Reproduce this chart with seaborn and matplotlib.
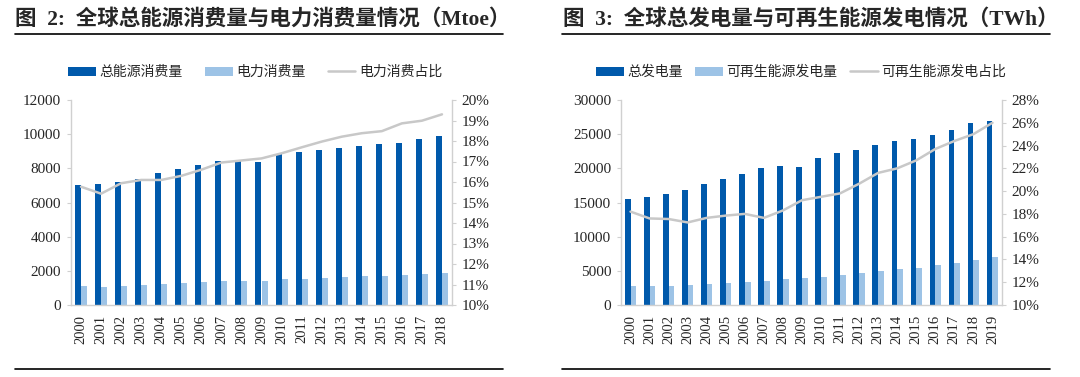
import numpy as np
import pandas as pd
import matplotlib.pyplot as plt
import seaborn as sns
from matplotlib.patches import Patch
from matplotlib.lines import Line2D
from matplotlib.ticker import FuncFormatter, MultipleLocator

sns.set_style("white")
plt.rcParams['font.family'] = ['Liberation Serif', 'Noto Sans CJK SC']

DARK = "#0059AB"
LIGHT = "#9DC3E6"
LINE_C = "#C8C8C8"
SPINE_C = "#D0D0D0"

# left panel: world energy vs electricity consumption (Mtoe)
years_a = ["2000", "2001", "2002", "2003", "2004", "2005", "2006", "2007", "2008", "2009",
           "2010", "2011", "2012", "2013", "2014", "2015", "2016", "2017", "2018"]
total_energy = [7020, 7060, 7190, 7390, 7740, 7950, 8170, 8420, 8440, 8380,
                8810, 8950, 9045, 9200, 9290, 9400, 9510, 9690, 9920]
power_use = [1090, 1075, 1110, 1150, 1210, 1270, 1330, 1385, 1420, 1400,
             1500, 1540, 1600, 1655, 1680, 1700, 1775, 1815, 1890]
power_share = [15.77, 15.43, 15.94, 16.1, 16.1, 16.3, 16.6, 16.95, 17.05, 17.15,
               17.4, 17.69, 17.97, 18.21, 18.38, 18.48, 18.86, 18.99, 19.3]
names_a = ["总能源消费量", "电力消费量", "电力消费占比"]

# right panel: total vs renewable generation (TWh)
years_b = ["2000", "2001", "2002", "2003", "2004", "2005", "2006", "2007", "2008", "2009",
           "2010", "2011", "2012", "2013", "2014", "2015", "2016", "2017", "2018", "2019"]
total_gen = [15510, 15760, 16300, 16880, 17680, 18420, 19150, 20000, 20390, 20220,
             21530, 22240, 22750, 23410, 24000, 24250, 24900, 25620, 26610, 27000]
renew_gen = [2780, 2730, 2830, 2930, 3070, 3270, 3410, 3510, 3760, 3900,
             4150, 4340, 4680, 5020, 5270, 5460, 5850, 6190, 6630, 6970]
renew_share = [18.2, 17.6, 17.55, 17.25, 17.65, 17.85, 18.0, 17.65, 18.3, 19.2,
               19.5, 19.8, 20.65, 21.6, 22.0, 22.7, 23.7, 24.4, 25.0, 26.0]
names_b = ["总发电量", "可再生能源发电量", "可再生能源发电占比"]

W, H = 1080, 377
fig = plt.figure(figsize=(W / 100, H / 100), dpi=100)


def box(x0, x1, ytop, ybot):
    return [x0 / W, 1 - ybot / H, (x1 - x0) / W, (ybot - ytop) / H]


def panel(ax, years, big, small, share, names, ymax, ystep, pmin, pmax, pstep,
          leg_x, colsp):
    n = len(years)
    df = pd.DataFrame({"year": years * 2,
                       "value": big + small,
                       "series": [names[0]] * n + [names[1]] * n})
    sns.barplot(data=df, x="year", y="value", hue="series", palette=[DARK, LIGHT],
                width=0.6, saturation=1, linewidth=0, legend=False, ax=ax)
    ax.set_xlim(-0.5, n - 0.5)
    ax.set_ylim(0, ymax)
    ax.yaxis.set_major_locator(MultipleLocator(ystep))
    ax.set_xlabel("")
    ax.set_ylabel("")
    ax.tick_params(axis="x", rotation=90, length=0, labelsize=10.5, pad=7)
    ax.tick_params(axis="y", length=3, color=SPINE_C, labelsize=11, pad=4, left=True)
    for s in ["top", "right"]:
        ax.spines[s].set_visible(False)
    for s in ["left", "bottom"]:
        ax.spines[s].set_color(SPINE_C)
        ax.spines[s].set_linewidth(1)

    ax2 = ax.twinx()
    sns.lineplot(x=np.arange(n), y=share, color=LINE_C, linewidth=1.8, ax=ax2)
    ax2.set_ylim(pmin, pmax)
    ax2.yaxis.set_major_locator(MultipleLocator(pstep))
    ax2.yaxis.set_major_formatter(FuncFormatter(lambda v, p: f"{v:.0f}%"))
    ax2.tick_params(axis="y", length=3, color=SPINE_C, labelsize=11, pad=4, right=True)
    for s in ["top", "left", "bottom"]:
        ax2.spines[s].set_visible(False)
    ax2.spines["right"].set_color(SPINE_C)
    ax2.spines["right"].set_linewidth(1)

    handles = [Patch(facecolor=DARK, linewidth=0), Patch(facecolor=LIGHT, linewidth=0),
               Line2D([], [], color=LINE_C, linewidth=1.8)]
    ax2.legend(handles, names, loc="center left", bbox_to_anchor=(leg_x / W, 1 - 72 / H),
               bbox_transform=fig.transFigure, ncol=3, frameon=False,
               prop={"family": ["Noto Sans CJK SC"], "size": 10},
               handlelength=2.0, handleheight=0.6, handletextpad=0.25,
               columnspacing=colsp, borderaxespad=0, borderpad=0)


ax_a = fig.add_axes(box(71, 452, 100, 305))
panel(ax_a, years_a, total_energy, power_use, power_share, names_a,
      12000, 2000, 10, 20, 1, 68, 1.6)

ax_b = fig.add_axes(box(621, 1002, 100, 305))
panel(ax_b, years_b, total_gen, renew_gen, renew_share, names_b,
      30000, 5000, 10, 28, 2, 596, 0.9)

title_font = ["Liberation Serif", "Noto Sans CJK SC"]
fig.text(15 / W, 1 - 19 / H, "图  2:  全球总能源消费量与电力消费量情况（Mtoe）",
         fontsize=15.5, fontweight="bold", ha="left", va="center", family=title_font)
fig.text(563 / W, 1 - 19 / H, "图  3:  全球总发电量与可再生能源发电情况（TWh）",
         fontsize=15.5, fontweight="bold", ha="left", va="center", family=title_font)

for x0, x1 in [(15, 503), (562, 1050)]:
    fig.add_artist(Line2D([x0 / W, x1 / W], [1 - 34 / H, 1 - 34 / H],
                          color="black", linewidth=1.2, transform=fig.transFigure))
    fig.add_artist(Line2D([x0 / W, x1 / W], [1 - 369 / H, 1 - 369 / H],
                          color="black", linewidth=1.2, transform=fig.transFigure))

fig.savefig("out.png", dpi=100)
